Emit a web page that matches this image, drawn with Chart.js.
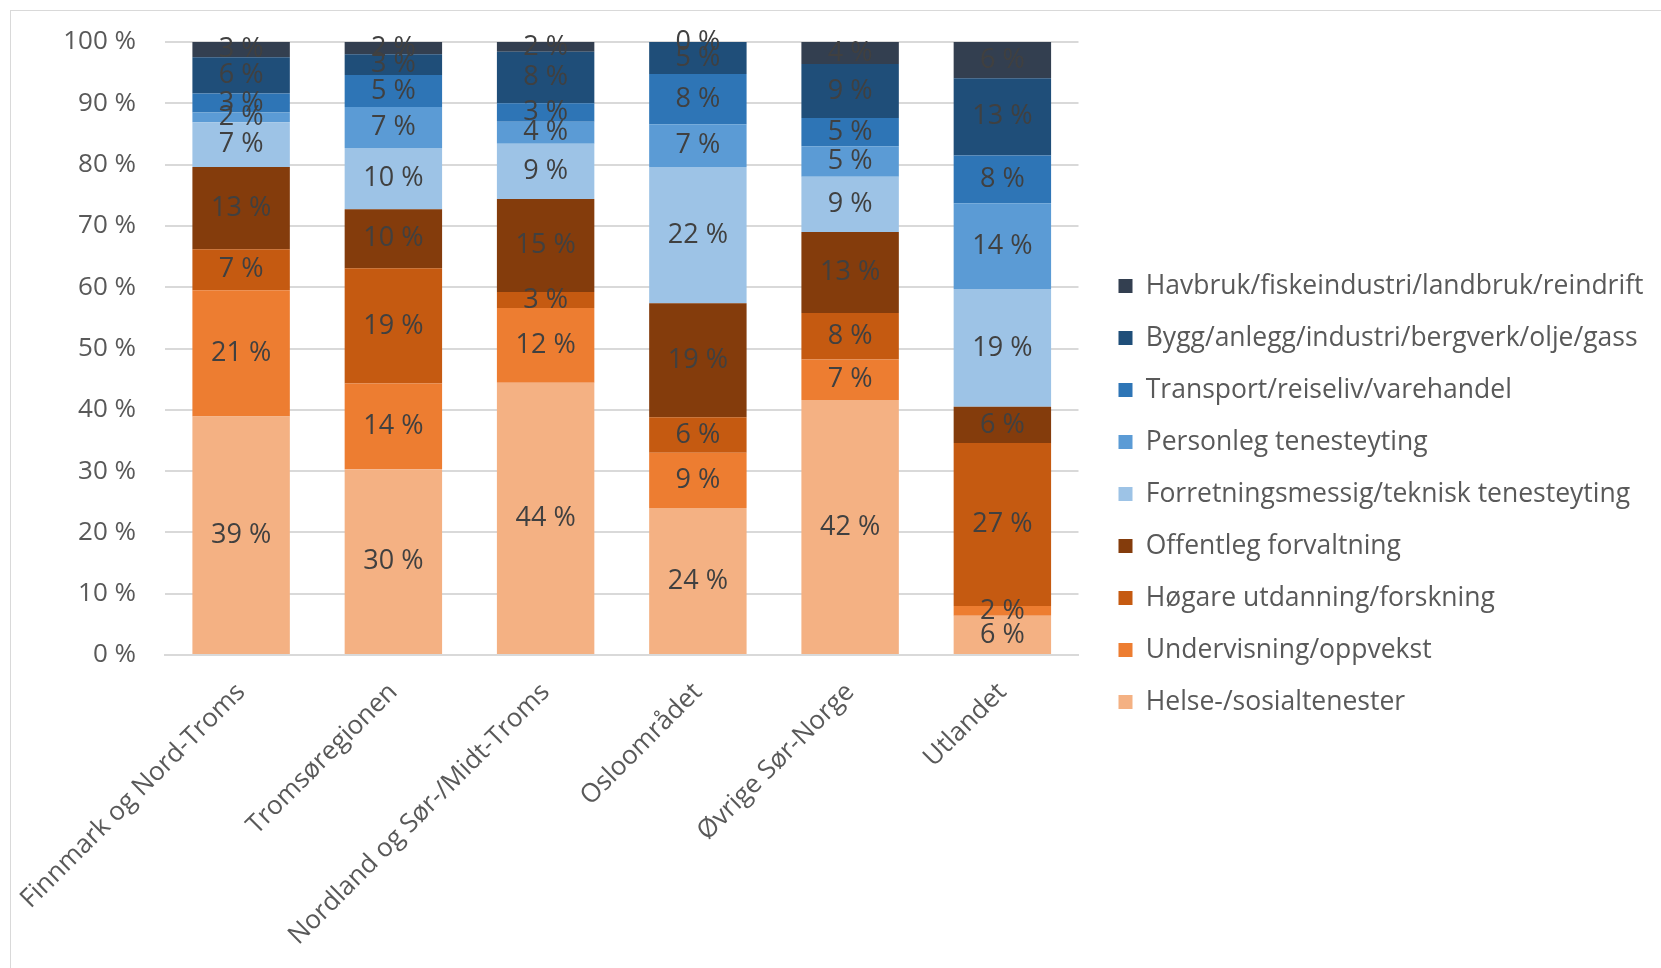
<!DOCTYPE html>
<html>
<head>
<meta charset="utf-8">
<script src="https://cdn.jsdelivr.net/npm/chart.js@4/dist/chart.umd.min.js"></script>
<style>
  html, body { margin: 0; padding: 0; background: #fff; width: 1661px; height: 968px; overflow: hidden; }
  #frame { position: absolute; left: 10px; top: 10px; width: 1660px; height: 970px; border-left: 1px solid #D9D9D9; border-top: 1px solid #D9D9D9; }
  #wrap { position: absolute; left: 11px; top: 11px; width: 1650px; height: 957px; }
</style>
</head>
<body>
<div id="frame"></div>
<div id="wrap"><canvas id="c"></canvas></div>
<script>
const categories = ["Finnmark og Nord-Troms", "Tromsøregionen", "Nordland og Sør-/Midt-Troms", "Osloområdet", "Øvrige Sør-Norge", "Utlandet"];

const helse        = [38.9, 30.3, 44.4, 24.0, 41.6, 6.4];
const undervisning = [20.6, 14.0, 12.2, 9.0, 6.6, 1.6];
const hogare       = [6.7, 18.8, 2.6, 5.8, 7.6, 26.6];
const offentleg    = [13.4, 9.6, 15.2, 18.6, 13.2, 5.9];
const forretning   = [7.3, 10.0, 9.0, 22.2, 9.0, 19.2];
const personleg    = [1.6, 6.7, 3.6, 7.0, 5.0, 14.0];
const transport    = [3.1, 5.2, 3.0, 8.2, 4.6, 7.8];
const bygg         = [5.9, 3.4, 8.4, 5.2, 8.8, 12.6];
const havbruk      = [2.6, 2.0, 1.6, 0.0, 3.6, 5.9];

const yTicks = [0, 10, 20, 30, 40, 50, 60, 70, 80, 90, 100];

const FONT = "'Open Sans', sans-serif";

const datasets = [
  { label: "Helse-/sosialtenester", data: helse, backgroundColor: "#F4B183" },
  { label: "Undervisning/oppvekst", data: undervisning, backgroundColor: "#ED7D31" },
  { label: "Høgare utdanning/forskning", data: hogare, backgroundColor: "#C55A11" },
  { label: "Offentleg forvaltning", data: offentleg, backgroundColor: "#843C0C" },
  { label: "Forretningsmessig/teknisk tenesteyting", data: forretning, backgroundColor: "#9DC3E6" },
  { label: "Personleg tenesteyting", data: personleg, backgroundColor: "#5B9BD5" },
  { label: "Transport/reiseliv/varehandel", data: transport, backgroundColor: "#2E75B6" },
  { label: "Bygg/anlegg/industri/bergverk/olje/gass", data: bygg, backgroundColor: "#1F4E79" },
  { label: "Havbruk/fiskeindustri/landbruk/reindrift", data: havbruk, backgroundColor: "#333F50" }
].map(d => Object.assign(d, { barPercentage: 0.64, categoryPercentage: 1.0, borderWidth: 0 }));

const valueLabels = {
  id: 'valueLabels',
  afterDatasetsDraw(chart) {
    const ctx = chart.ctx;
    ctx.save();
    ctx.font = "27px " + FONT;
    ctx.fillStyle = "#404040";
    ctx.textAlign = "center";
    ctx.textBaseline = "middle";
    chart.data.datasets.forEach((ds, i) => {
      const meta = chart.getDatasetMeta(i);
      meta.data.forEach((el, j) => {
        const v = ds.data[j];
        const y = (el.y + el.base) / 2;
        ctx.fillText(Math.round(v) + " %", el.x, y);
      });
    });
    ctx.restore();
  }
};

const legendPlace = {
  id: 'legendPlace',
  afterLayout(chart) {
    const lg = chart.legend;
    if (!lg) return;
    const w = lg.right - lg.left;
    lg.left = 1082; lg.right = 1082 + w;
    lg.top -= 9; lg.bottom -= 9;
  }
};

new Chart(document.getElementById('c'), {
  type: 'bar',
  data: { labels: categories, datasets },
  plugins: [valueLabels, legendPlace],
  options: {
    responsive: true,
    maintainAspectRatio: false,
    animation: false,
    layout: { padding: { left: 0, top: 31, right: 22, bottom: 4 } },
    plugins: {
      tooltip: { enabled: false },
      legend: {
        position: 'right',
        reverse: true,
        maxWidth: 700,
        labels: {
          font: { family: FONT, size: 26.5 },
          color: "#595959",
          boxWidth: 14,
          boxHeight: 14,
          padding: 25.5
        }
      }
    },
    scales: {
      x: {
        stacked: true,
        grid: { display: false },
        border: { color: "#D9D9D9", width: 2 },
        ticks: {
          font: { family: FONT, size: 26 },
          color: "#595959",
          minRotation: 45,
          maxRotation: 45,
          padding: 14
        },
        afterFit(scale) { scale.height = 309; scale.paddingLeft = 0; scale.paddingRight = 0; }
      },
      y: {
        stacked: true,
        min: 0,
        max: 100,
        afterBuildTicks(scale) { scale.ticks = yTicks.map(v => ({ value: v })); },
        grid: { color: "#D9D9D9", lineWidth: 2, drawTicks: false },
        border: { display: false },
        ticks: {
          font: { family: FONT, size: 26 },
          color: "#595959",
          padding: 29,
          callback: v => v + " %"
        },
        afterFit(scale) { scale.width = 154; scale.paddingTop = 0; scale.paddingBottom = 0; }
      }
    }
  }
});
</script>
</body>
</html>
